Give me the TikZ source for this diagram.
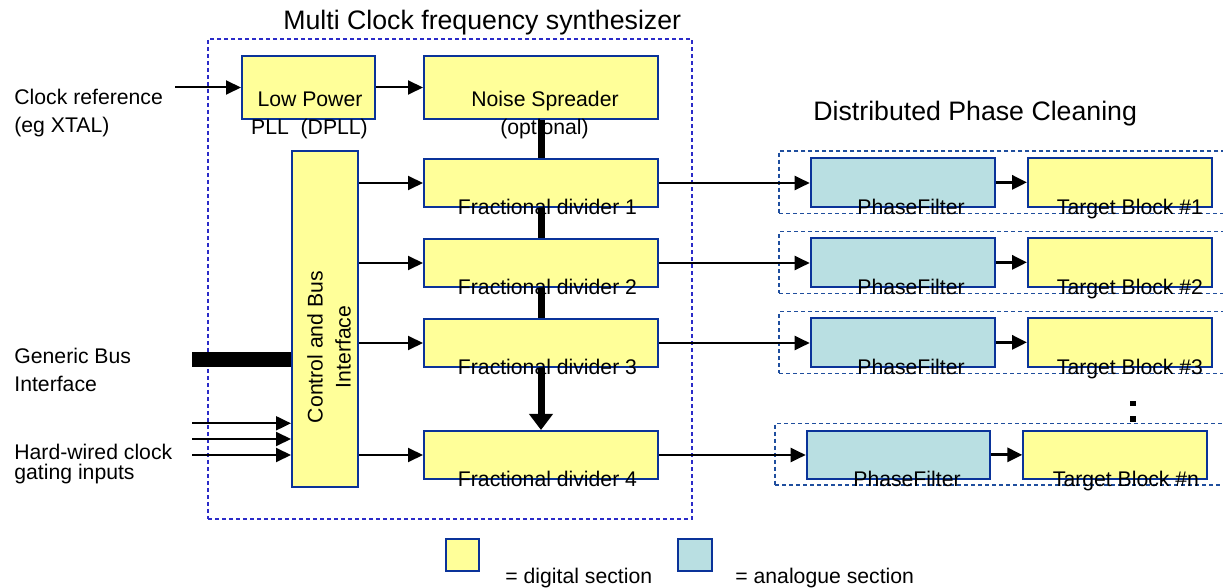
\documentclass[tikz,border=0pt]{standalone}
\usepackage{fontspec}
\setmainfont{Liberation Sans}
\usetikzlibrary{arrows.meta,fit}
\definecolor{dyel}{HTML}{FFFF99}
\definecolor{dcyan}{HTML}{B9DFE2}
\definecolor{bord}{HTML}{0A3399}
\definecolor{mdash}{HTML}{2B2BC8}
\definecolor{rdash}{HTML}{1F4E9E}
\begin{document}
\begin{tikzpicture}[x=0.5pt,y=-0.5pt,
  digi/.style={draw=bord, fill=dyel, line width=1pt, inner sep=0pt},
  anal/.style={draw=bord, fill=dcyan, line width=1pt, inner sep=0pt},
  grp/.style={draw=rdash, dash pattern=on 2pt off 1.5pt, line width=0.6pt, inner sep=0pt},
  mgrp/.style={draw=mdash, dash pattern=on 2pt off 1.5pt, line width=0.6pt, inner sep=0pt},
  lbl/.style={inner sep=0pt, font=\fontsize{10.6}{12.7}\selectfont},
  ttl/.style={inner sep=0pt, font=\fontsize{13.35}{16}\selectfont},
  arr/.style={line width=1pt, -{Triangle[length=7.5pt,width=7pt]}},
  arrb/.style={line width=1.6pt, -{Triangle[length=7.5pt,width=7pt]}},
  vbus/.style={line width=3.5pt},
  vbusarr/.style={line width=3.5pt, -{Triangle[length=8pt,width=11.5pt]}},
  hbus/.style={line width=7.8pt}
]
\clip (0,0) rectangle (1223,588);
\fill[white] (0,0) rectangle (1223,588);

% groups
\node[mgrp, fit={(208,39) (692,519)}] (synth) {};
\node[grp, fit={(779,151) (1230,213.3)}] (g1) {};
\node[grp, fit={(779,231.7) (1230,293.3)}] (g2) {};
\node[grp, fit={(779,311.7) (1230,373.3)}] (g3) {};
\node[grp, fit={(775,423.3) (1230,485)}] (gn) {};

% titles
\node[ttl, anchor=base west] (t1) at (283,29.5) {Multi Clock frequency synthesizer};
\node[ttl, anchor=base west] (t2) at (813,120.7) {Distributed Phase Cleaning};

% boxes
\node[digi, fit={(242,56) (375,119)}] (pll) {};
\node[digi, fit={(424,56) (658,119)}] (noise) {};
\node[digi, fit={(292,151) (358.3,487)}] (ctrl) {};
\node[digi, fit={(424,159) (658,207)}] (f1) {};
\node[digi, fit={(424,239) (658,287)}] (f2) {};
\node[digi, fit={(424,319) (658,367)}] (f3) {};
\node[digi, fit={(424,431) (658,479)}] (f4) {};

\node[anal, fit={(810.7,158) (995,206.7)}] (pf1) {};
\node[digi, fit={(1028,158) (1211.7,206.7)}] (tb1) {};
\node[anal, fit={(810.7,238) (995,286.7)}] (pf2) {};
\node[digi, fit={(1028,238) (1211.7,286.7)}] (tb2) {};
\node[anal, fit={(810.7,318) (995,366.7)}] (pf3) {};
\node[digi, fit={(1028,318) (1211.7,366.7)}] (tb3) {};
\node[anal, fit={(806.7,430.7) (990,479)}] (pfn) {};
\node[digi, fit={(1023.3,430.7) (1206.7,479)}] (tbn) {};

% legend
\node[digi, fit={(445.7,539) (479.3,571)}] (ly) {};
\node[anal, fit={(678,539) (712.3,571)}] (lc) {};
\node[lbl, anchor=base west] (lyt) at (505,584) {= digital section};
\node[lbl, anchor=base west] (lct) at (735,584) {= analogue section};

% box texts
\node[lbl, anchor=base] (pllt1) at (310,107) {Low Power};
\node[lbl, anchor=base] (pllt2) at (309.5,135) {PLL\ \ (DPLL)};
\node[lbl, anchor=base] (nt1) at (545,107) {Noise Spreader};
\node[lbl, anchor=base] (nt2) at (544.5,135) {(optional)};
\node[lbl, anchor=base, rotate=90] (ct1) at (322.7,347) {Control and Bus};
\node[lbl, anchor=base, rotate=90] (ct2) at (350.7,347) {Interface};
\node[lbl, anchor=base] (f1t) at (547.5,214.6) {Fractional divider 1};
\node[lbl, anchor=base] (f2t) at (547.5,294.6) {Fractional divider 2};
\node[lbl, anchor=base] (f3t) at (547.5,374.6) {Fractional divider 3};
\node[lbl, anchor=base] (f4t) at (547.5,486.6) {Fractional divider 4};
\node[lbl, anchor=base] (pf1t) at (911,214.3) {PhaseFilter};
\node[lbl, anchor=base] (pf2t) at (911,294.3) {PhaseFilter};
\node[lbl, anchor=base] (pf3t) at (911,374.3) {PhaseFilter};
\node[lbl, anchor=base] (pfnt) at (907,486.6) {PhaseFilter};
\node[lbl, anchor=base] (tb1t) at (1130,214.3) {Target Block \#1};
\node[lbl, anchor=base] (tb2t) at (1130,294.3) {Target Block \#2};
\node[lbl, anchor=base] (tb3t) at (1130,374.3) {Target Block \#3};
\node[lbl, anchor=base] (tbnt) at (1126,486.6) {Target Block \#n};

% left labels
\node[lbl, anchor=base west] (l1) at (14,104.5) {Clock reference};
\node[lbl, anchor=base west] (l2) at (14,133) {(eg XTAL)};
\node[lbl, anchor=base west] (l3) at (14,364) {Generic Bus};
\node[lbl, anchor=base west] (l4) at (14,391.5) {Interface};
\node[lbl, anchor=base west] (l5) at (14,459.5) {Hard-wired clock};
\node[lbl, anchor=base west] (l6) at (14,480) {gating inputs};

% free ends
\coordinate (clkin) at (175,87.5);
\coordinate (busin) at (192,359.5);
\coordinate (gi1) at (192,423.3);
\coordinate (gi2) at (192,439);
\coordinate (gi3) at (192,455);

% connectors
\draw[arr] (clkin) -- (clkin -| pll.west);
\draw[arr] (pll.east) -- (noise.west);
\draw[hbus] (busin) -- (busin -| ctrl.west);
\draw[arr] (gi1) -- (gi1 -| ctrl.west);
\draw[arr] (gi2) -- (gi2 -| ctrl.west);
\draw[arr] (gi3) -- (gi3 -| ctrl.west);
\foreach \f in {f1,f2,f3,f4}{
  \draw[arr] (ctrl.east |- \f) -- (\f.west);
}
\draw[vbus] (noise.south) -- (f1.north);
\draw[vbus] (f1.south) -- (f2.north);
\draw[vbus] (f2.south) -- (f3.north);
\draw[vbusarr] (f3.south) -- (f4.north);

\draw[arr] (f1.east) -- (f1.east -| pf1.west);
\draw[arr] (f2.east) -- (f2.east -| pf2.west);
\draw[arr] (f3.east) -- (f3.east -| pf3.west);
\draw[arr] (f4.east) -- (f4.east -| pfn.west);
\draw[arrb] (pf1.east) -- (tb1.west);
\draw[arrb] (pf2.east) -- (tb2.west);
\draw[arrb] (pf3.east) -- (tb3.west);
\draw[arrb] (pfn.east) -- (tbn.west);

% continuation dots
\fill (1130,400.7) rectangle (1136,406);
\fill (1130,416) rectangle (1136,421.7);
\end{tikzpicture}
\end{document}
